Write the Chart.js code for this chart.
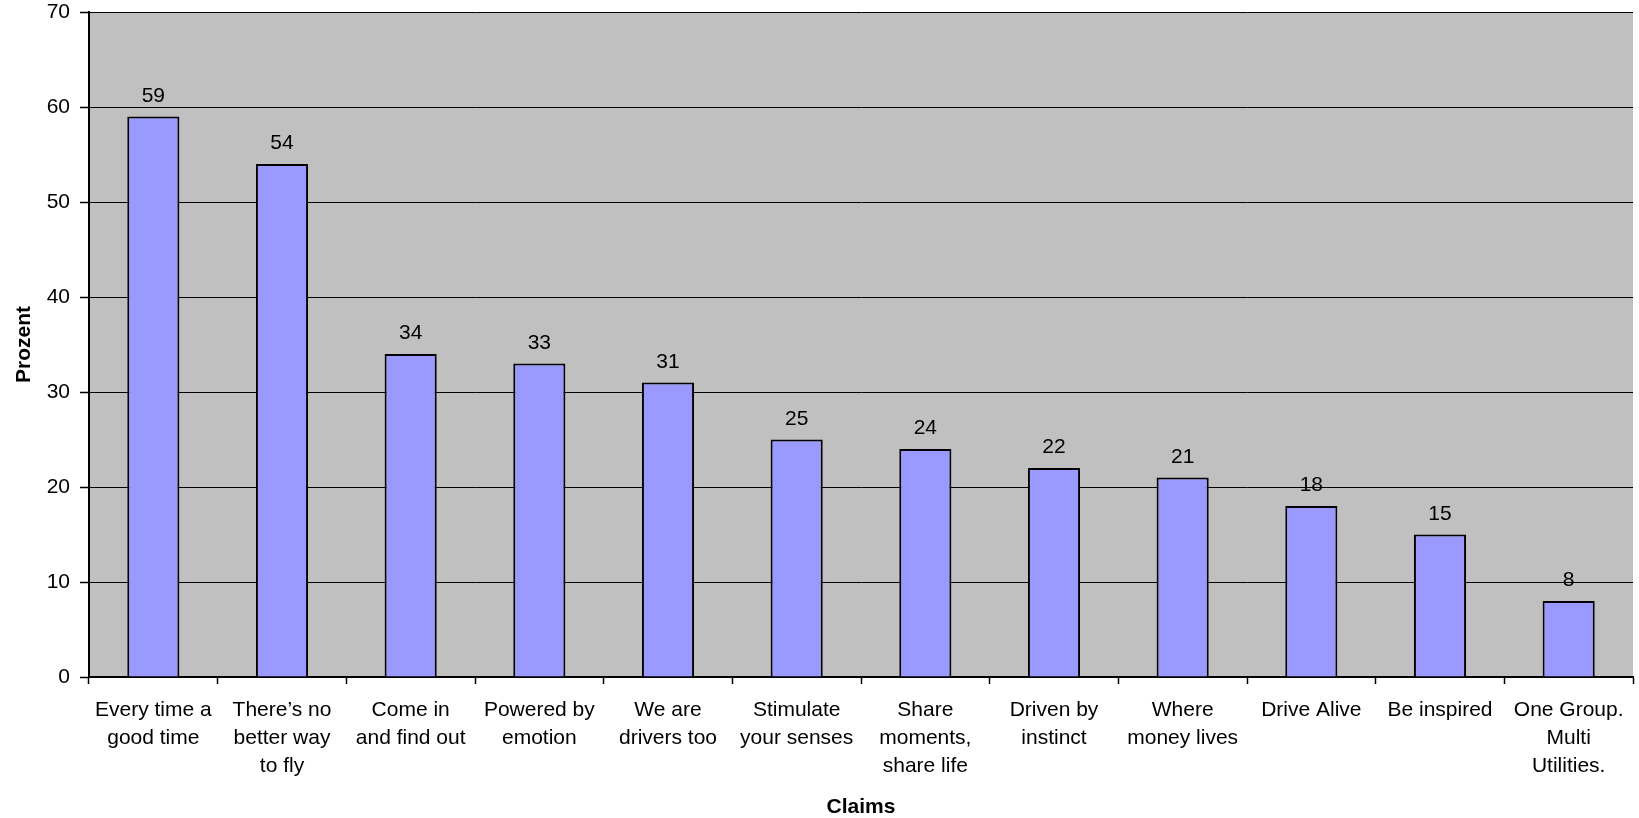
<!DOCTYPE html>
<html>
<head>
<meta charset="utf-8">
<script src="https://cdn.jsdelivr.net/npm/chart.js@4/dist/chart.umd.min.js"></script>
<style>
  html, body { margin: 0; padding: 0; background: #ffffff; }
  #wrap { width: 1639px; height: 818px; }
</style>
</head>
<body>
<div id="wrap"><canvas id="c" width="1639" height="818"></canvas></div>
<script>
const categories = [
  ["Every time a", "good time"],
  ["There\u2019s no", "better way", "to fly"],
  ["Come in", "and find out"],
  ["Powered by", "emotion"],
  ["We are", "drivers too"],
  ["Stimulate", "your senses"],
  ["Share", "moments,", "share life"],
  ["Driven by", "instinct"],
  ["Where", "money lives"],
  ["Drive Alive"],
  ["Be inspired"],
  ["One Group.", "Multi", "Utilities."]
];
const values = [59, 54, 34, 33, 31, 25, 24, 22, 21, 18, 15, 8];
const yTicks = [0, 10, 20, 30, 40, 50, 60, 70];
const yTitle = "Prozent";
const xTitle = "Claims";

const FONT = "'Liberation Sans', Arial, sans-serif";
const FS = 21;

const plotBg = {
  id: 'plotBg',
  beforeDraw(chart) {
    const a = chart.chartArea, ctx = chart.ctx;
    ctx.save();
    ctx.fillStyle = '#C0C0C0';
    ctx.fillRect(a.left, a.top, a.right - a.left, a.bottom - a.top);
    ctx.restore();
  }
};

const valueLabels = {
  id: 'valueLabels',
  afterDatasetsDraw(chart) {
    const ctx = chart.ctx;
    const meta = chart.getDatasetMeta(0);
    ctx.save();
    ctx.font = FS + 'px ' + FONT;
    ctx.fillStyle = '#000';
    ctx.textAlign = 'center';
    ctx.textBaseline = 'alphabetic';
    meta.data.forEach((bar, i) => {
      ctx.fillText(String(chart.data.datasets[0].data[i]), bar.x, bar.y - 15);
    });
    ctx.restore();
  }
};

new Chart(document.getElementById('c'), {
  type: 'bar',
  data: {
    labels: categories,
    datasets: [{
      data: values,
      backgroundColor: '#9999FF',
      borderColor: '#000000',
      borderWidth: 2,
      categoryPercentage: 1.0,
      barPercentage: 0.405
    }]
  },
  options: {
    responsive: false,
    animation: false,
    devicePixelRatio: 1,
    layout: { padding: { top: 12, right: 6, left: 0, bottom: 0 } },
    plugins: {
      legend: { display: false },
      tooltip: { enabled: false },
      title: { display: false }
    },
    scales: {
      x: {
        offset: true,
        grid: {
          display: true,
          offset: true,
          drawOnChartArea: false,
          drawTicks: true,
          tickLength: 7,
          tickWidth: 1.5,
          tickColor: '#000'
        },
        border: { display: true, color: '#000', width: 2 },
        ticks: {
          color: '#000',
          padding: 12,
          maxRotation: 0,
          minRotation: 0,
          autoSkip: false,
          font: { family: FONT, size: FS, lineHeight: 1.33 }
        },
        title: {
          display: true,
          text: xTitle,
          color: '#000',
          padding: { top: 0, bottom: 0 },
          font: { family: FONT, size: FS, weight: 'bold', lineHeight: 1.05 }
        },
        afterFit(scale) {
          scale.height = 141;
          scale.paddingLeft = 0;
          scale.paddingRight = 0;
        }
      },
      y: {
        min: 0,
        max: 70,
        afterBuildTicks(scale) { scale.ticks = yTicks.map(v => ({ value: v })); },
        grid: {
          display: true,
          color: '#000',
          lineWidth: 1,
          drawTicks: true,
          tickLength: 9,
          tickColor: '#000',
          tickWidth: 1.5
        },
        border: { display: true, color: '#000', width: 2 },
        ticks: {
          color: '#000',
          padding: 10,
          font: { family: FONT, size: FS }
        },
        title: {
          display: true,
          text: yTitle,
          color: '#000',
          padding: { top: 12, bottom: 0 },
          font: { family: FONT, size: FS, weight: 'bold' }
        },
        afterFit(scale) {
          scale.width = 89;
          scale.paddingTop = 0;
          scale.paddingBottom = 0;
        }
      }
    }
  },
  plugins: [plotBg, valueLabels]
});
</script>
</body>
</html>
